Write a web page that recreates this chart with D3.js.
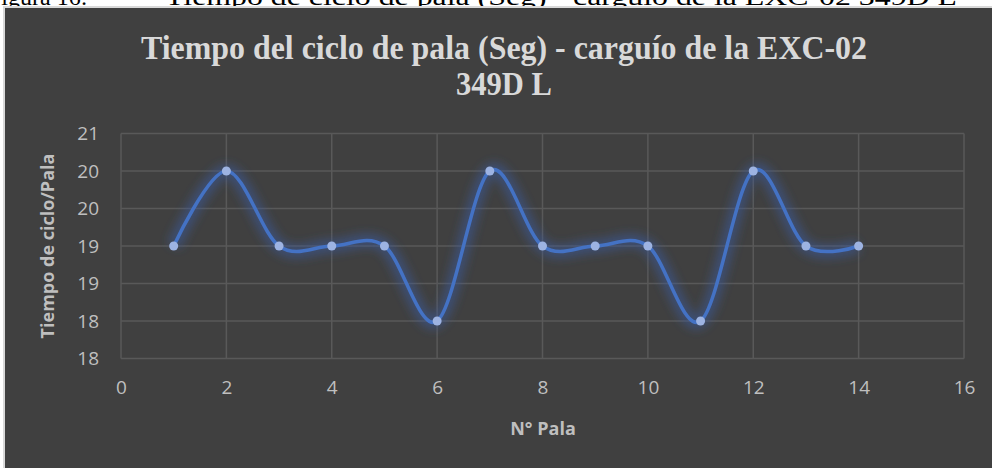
<!DOCTYPE html>
<html>
<head>
<meta charset="utf-8">
<script src="https://cdn.jsdelivr.net/npm/d3@7"></script>
<style>
  html, body { margin: 0; padding: 0; background: #ffffff; overflow: hidden; }
  svg { display: block; }
</style>
</head>
<body>
<svg id="chart" width="992" height="468"></svg>
<script>
// Cycle time per shovel pass, excavator EXC-02 349D L
const palas = [1, 2, 3, 4, 5, 6, 7, 8, 9, 10, 11, 12, 13, 14];
const tiempos = [19, 20, 19, 19, 19, 18, 20, 19, 19, 19, 18, 20, 19, 19];
const xTicks = [0, 2, 4, 6, 8, 10, 12, 14, 16];
const yTicks = [17.5, 18, 18.5, 19, 19.5, 20, 20.5];

const titleLines = ["Tiempo del ciclo de pala (Seg) - carguío de la EXC-02", "349D L"];
const xTitle = "N° Pala";
const yTitle = "Tiempo de ciclo/Pala";

const svg = d3.select("#chart");
const W = 992, H = 468;

// Figure caption above the chart (runs off the top edge)
svg.append("text")
  .attr("x", -12).attr("y", 5)
  .attr("font-family", "Liberation Serif, Times New Roman, serif")
  .attr("font-size", 24).attr("fill", "#000")
  .text("Figura 16:");
svg.append("text")
  .attr("x", 165).attr("y", 5)
  .attr("font-family", "Liberation Serif, Times New Roman, serif")
  .attr("font-size", 24).attr("fill", "#000")
  .attr("textLength", 792).attr("lengthAdjust", "spacingAndGlyphs")
  .text("Tiempo de ciclo de pala (Seg) - carguío de la EXC-02 349D L");

// Chart panel
svg.append("rect").attr("x", 3).attr("y", 6).attr("width", W).attr("height", H)
  .attr("fill", "#d9d9d9");
svg.append("rect").attr("x", 5).attr("y", 8).attr("width", W).attr("height", H)
  .attr("fill", "#404040");

const plot = { left: 121, right: 964, top: 133.5, bottom: 358.5 };

const x = d3.scaleLinear().domain([0, 16]).range([plot.left, plot.right]);
const y = d3.scaleLinear().domain([17.5, 20.5]).range([plot.bottom, plot.top]);

const defs = svg.append("defs");
const glow = defs.append("filter").attr("id", "glow")
  .attr("x", "-10%").attr("y", "-30%").attr("width", "120%").attr("height", "160%");
glow.append("feGaussianBlur").attr("stdDeviation", 5);

// Gridlines
const grid = svg.append("g").attr("stroke", "#595959").attr("stroke-width", 1.5);
grid.selectAll("line.h").data(yTicks).join("line").attr("class", "h")
  .attr("x1", plot.left).attr("x2", plot.right)
  .attr("y1", d => y(d)).attr("y2", d => y(d));
grid.selectAll("line.v").data(xTicks).join("line").attr("class", "v")
  .attr("x1", d => x(d)).attr("x2", d => x(d))
  .attr("y1", plot.top).attr("y2", plot.bottom);

// Axes (labels only; lines come from the grid). Y labels are rounded to whole seconds.
const yAxis = svg.append("g").attr("transform", `translate(${plot.left},0)`)
  .call(d3.axisLeft(y).tickValues(yTicks).tickSize(0).tickPadding(22)
    .tickFormat(d => String(Math.floor(d + 0.5))));
const xAxis = svg.append("g").attr("transform", `translate(0,${plot.bottom})`)
  .call(d3.axisBottom(x).tickValues(xTicks).tickSize(0).tickPadding(22)
    .tickFormat(d3.format("d")));
[xAxis, yAxis].forEach(a => {
  a.select(".domain").remove();
  a.selectAll("text")
    .attr("font-family", "Open Sans, Liberation Sans, sans-serif")
    .attr("font-size", 19).attr("fill", "#bfbfbf");
});

// Smoothed series line with a soft blue glow
const line = d3.line()
  .x((d, i) => x(palas[i]))
  .y(d => y(d))
  .curve(d3.curveCardinal.tension(0));

svg.append("path").datum(tiempos)
  .attr("d", line).attr("fill", "none")
  .attr("stroke", "#3a5a9a").attr("stroke-width", 14).attr("stroke-opacity", 0.55)
  .attr("filter", "url(#glow)");
svg.append("path").datum(tiempos)
  .attr("d", line).attr("fill", "none")
  .attr("stroke", "#4472c4").attr("stroke-width", 3.5)
  .attr("stroke-linejoin", "round").attr("stroke-linecap", "round");

svg.append("g").selectAll("circle").data(tiempos).join("circle")
  .attr("cx", (d, i) => x(palas[i])).attr("cy", d => y(d))
  .attr("r", 4.5).attr("fill", "#9db3e2");

// Titles
const title = svg.append("text")
  .attr("text-anchor", "middle")
  .attr("font-family", "Liberation Serif, Times New Roman, serif")
  .attr("font-weight", "bold").attr("font-size", 33).attr("fill", "#d9d9d9");
title.append("tspan").attr("x", 504).attr("y", 59)
  .attr("textLength", 726).attr("lengthAdjust", "spacingAndGlyphs")
  .text(titleLines[0]);
title.append("tspan").attr("x", 504).attr("y", 95)
  .attr("textLength", 96).attr("lengthAdjust", "spacingAndGlyphs")
  .text(titleLines[1]);

svg.append("text")
  .attr("x", 543).attr("y", 435).attr("text-anchor", "middle")
  .attr("font-family", "Open Sans, Liberation Sans, sans-serif")
  .attr("font-weight", "bold").attr("font-size", 18).attr("fill", "#bfbfbf")
  .text(xTitle);

svg.append("text")
  .attr("transform", `translate(54,${(plot.top + plot.bottom) / 2}) rotate(-90)`)
  .attr("text-anchor", "middle")
  .attr("font-family", "Open Sans, Liberation Sans, sans-serif")
  .attr("font-weight", "bold").attr("font-size", 18).attr("fill", "#bfbfbf")
  .text(yTitle);
</script>
</body>
</html>
